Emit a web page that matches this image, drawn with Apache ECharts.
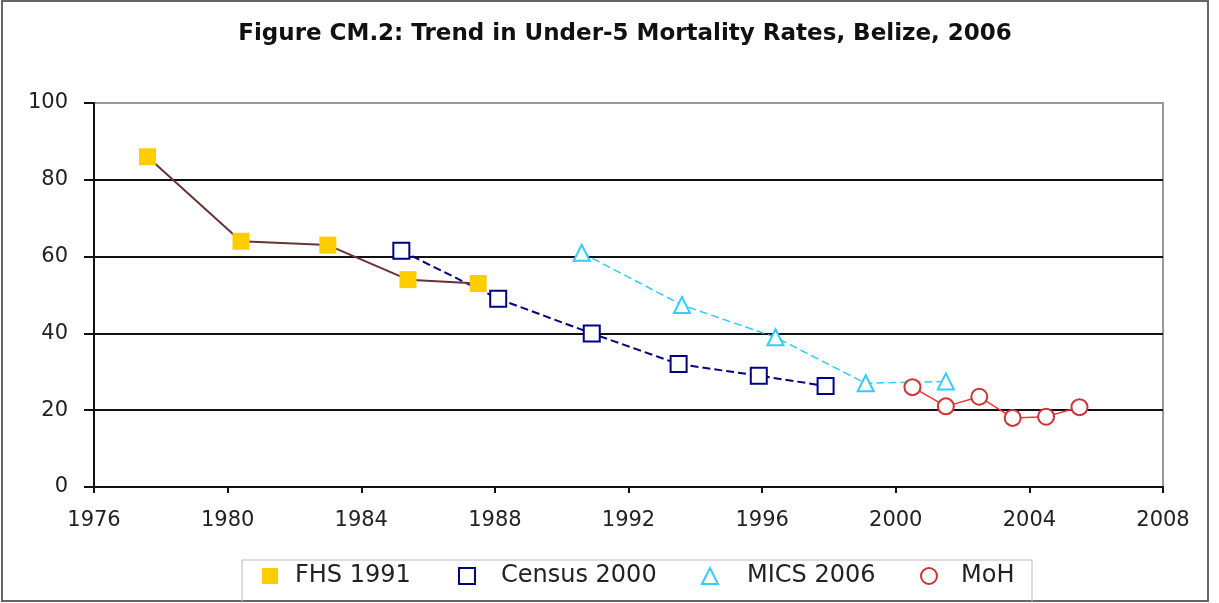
<!DOCTYPE html>
<html>
<head>
    <meta charset="utf-8">
    <title>Under-5 Mortality Rates, Belize</title>
    <script src="https://cdn.jsdelivr.net/npm/echarts@6/dist/echarts.min.js"></script>
    <style>
        html, body { margin: 0; padding: 0; background: #fff; }
    </style>
</head>
<body>
<div id="main" style="width: 1219px;height:603px;"></div>
<script type="text/javascript">
    // [year, rate] pairs
    var fhs1991 = [[1977.6, 86], [1980.4, 64], [1983.0, 63], [1985.4, 54], [1987.5, 53]];
    var census2000 = [[1985.2, 61.5], [1988.1, 49], [1990.9, 40], [1993.5, 32], [1995.9, 29], [1997.9, 26.3]];
    var mics2006 = [[1990.6, 61], [1993.6, 47.4], [1996.4, 39], [1999.1, 27], [2001.5, 27.5]];
    var moh = [[2000.5, 26], [2001.5, 21], [2002.5, 23.5], [2003.5, 18], [2004.5, 18.3], [2005.5, 20.8]];

    var seriesNames = ['FHS 1991', 'Census 2000', 'MICS 2006', 'MoH'];
    var xTicks = [1976, 1980, 1984, 1988, 1992, 1996, 2000, 2004, 2008];
    var yTicks = [0, 20, 40, 60, 80, 100];

    var labelFont = { color: '#222', fontSize: 21, fontFamily: 'DejaVu Sans' };

    // one legend per entry so the spacing follows the original
    function legendItem(name, icon, left, gap) {
        return {
            data: [{ name: name, icon: icon }],
            left: left,
            top: 559,
            itemWidth: 16,
            itemHeight: 16,
            itemGap: 0,
            textStyle: { color: '#222', fontSize: 24, fontFamily: 'DejaVu Sans', padding: [0, 0, 0, gap] }
        };
    }

    var option = {
        backgroundColor: '#fff',
        animation: false,
        title: {
            text: 'Figure CM.2: Trend in Under-5 Mortality Rates, Belize, 2006',
            left: 620,
            textAlign: 'center',
            top: 18,
            textStyle: { fontSize: 23, fontWeight: 'bold', color: '#111', fontFamily: 'DejaVu Sans' }
        },
        graphic: [
            { type: 'rect', shape: { x: 2, y: 1, width: 1206, height: 600 }, style: { fill: 'none', stroke: '#666', lineWidth: 2 }, silent: true },
            { type: 'rect', shape: { x: 242, y: 560, width: 790, height: 60 }, style: { fill: 'none', stroke: '#bbb', lineWidth: 1 }, silent: true }
        ],
        legend: [
            legendItem(seriesNames[0], 'rect', 257, 12),
            legendItem(seriesNames[1], 'emptyRect', 453, 21),
            legendItem(seriesNames[2], 'emptyTriangle', 696, 24),
            legendItem(seriesNames[3], 'emptyCircle', 915, 19)
        ],
        grid: {
            left: 94, right: 56, top: 103, bottom: 116,
            show: true, borderColor: '#999', borderWidth: 2
        },
        xAxis: {
            type: 'value',
            min: xTicks[0],
            max: xTicks[xTicks.length - 1],
            interval: 4,
            axisLine: { lineStyle: { color: '#111', width: 2 } },
            axisTick: { show: true, length: 6, lineStyle: { color: '#111', width: 2 } },
            axisLabel: Object.assign({ margin: 23, formatter: function (v) { return String(v); } }, labelFont),
            splitLine: { show: false }
        },
        yAxis: {
            type: 'value',
            min: yTicks[0],
            max: yTicks[yTicks.length - 1],
            interval: 20,
            axisLine: { show: true, lineStyle: { color: '#111', width: 2 } },
            axisTick: { show: true, inside: false, length: 10, lineStyle: { color: '#111', width: 2 } },
            axisLabel: Object.assign({ margin: 26 }, labelFont),
            splitLine: { show: true, lineStyle: { color: ['#111', '#111', '#111', '#111', '#111', '#999'], width: 2 } }
        },
        series: [
            {
                name: seriesNames[0],
                type: 'line',
                data: fhs1991,
                symbol: 'rect',
                symbolSize: 17,
                itemStyle: { color: '#FFCC00', borderWidth: 0 },
                lineStyle: { color: '#663333', width: 2 },
                z: 4
            },
            {
                name: seriesNames[1],
                type: 'line',
                data: census2000,
                symbol: 'emptyRect',
                symbolSize: 16,
                itemStyle: { color: '#000080', borderWidth: 2 },
                lineStyle: { color: '#000080', width: 2, type: [8, 4] },
                z: 3
            },
            {
                name: seriesNames[2],
                type: 'line',
                data: mics2006,
                symbol: 'emptyTriangle',
                symbolSize: 16,
                itemStyle: { color: '#33CCFF', borderWidth: 2 },
                lineStyle: { color: '#33CCFF', width: 1.5, type: [8, 4] },
                z: 3
            },
            {
                name: seriesNames[3],
                type: 'line',
                data: moh,
                symbol: 'emptyCircle',
                symbolSize: 16,
                itemStyle: { color: '#CC3333', borderWidth: 1.5 },
                lineStyle: { color: '#FF3333', width: 1.5 },
                z: 3
            }
        ]
    };

    var myChart = echarts.init(document.getElementById('main'));
    myChart.setOption(option);
</script>
</body>
</html>
